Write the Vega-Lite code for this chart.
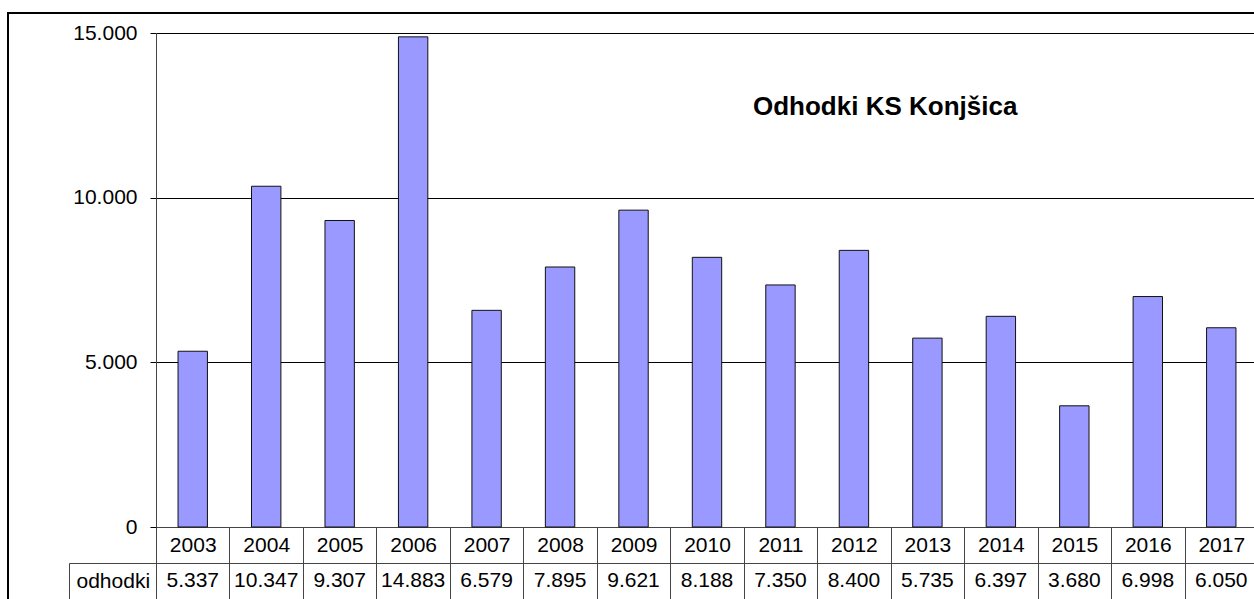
{
  "$schema": "https://vega.github.io/schema/vega-lite/v6.json",
  "autosize": {"type": "none"},
  "padding": {"left": 8, "top": 13, "right": -16, "bottom": -3},
  "width": 1262,
  "height": 589,
  "background": "#ffffff",
  "config": {
    "font": "Liberation Sans",
    "view": {"stroke": "#000000", "strokeWidth": 2},
    "locale": {"number": {"decimal": ",", "thousands": ".", "grouping": [3], "currency": ["", " €"]}},
    "axis": {"labelFont": "Liberation Sans", "labelFontSize": 21, "labelColor": "#000000", "titleFont": "Liberation Sans"}
  },
  "title": {"text": "Odhodki KS Konjšica", "font": "Liberation Sans", "fontSize": 26, "fontWeight": "bold", "color": "#000000", "frame": "group", "anchor": "start", "dx": 745, "offset": -131, "baseline": "middle"},
  "data": {"values": [
    {"year": "2003", "odhodki": 5337},
    {"year": "2004", "odhodki": 10347},
    {"year": "2005", "odhodki": 9307},
    {"year": "2006", "odhodki": 14883},
    {"year": "2007", "odhodki": 6579},
    {"year": "2008", "odhodki": 7895},
    {"year": "2009", "odhodki": 9621},
    {"year": "2010", "odhodki": 8188},
    {"year": "2011", "odhodki": 7350},
    {"year": "2012", "odhodki": 8400},
    {"year": "2013", "odhodki": 5735},
    {"year": "2014", "odhodki": 6397},
    {"year": "2015", "odhodki": 3680},
    {"year": "2016", "odhodki": 6998},
    {"year": "2017", "odhodki": 6050}
  ]},
  "encoding": {
    "x": {"field": "year", "type": "ordinal",
      "scale": {"range": [148, 1250], "paddingInner": 0, "paddingOuter": 0},
      "axis": {"orient": "bottom", "offset": -75, "title": null, "labelAngle": 0, "labelBaseline": "middle", "labelPadding": -54, "tickBand": "extent", "tickSize": 72, "tickColor": "#444444", "tickWidth": 1, "domainColor": "#444444", "domainWidth": 1, "labelFlush": false, "labelOverlap": false, "grid": false}}
  },
  "layer": [
    {"layer": [
      {"mark": {"type": "bar", "fill": "#9999FF", "stroke": "#111111", "strokeWidth": 1, "width": {"band": 0.4}},
       "encoding": {"y": {"field": "odhodki", "type": "quantitative", "scale": {"domain": [0, 15000], "range": [514, 20], "nice": false}, "axis": {"orient": "left", "offset": -148, "title": null, "values": [0, 5000, 10000, 15000], "format": ",d", "grid": true, "gridColor": "#000000", "gridWidth": 1, "domainColor": "#444444", "tickColor": "#000000", "tickSize": 6, "labelPadding": 13, "labelBaseline": "middle"}}}},
      {"mark": {"type": "text", "fontSize": 21, "font": "Liberation Sans", "color": "#000000", "baseline": "middle", "dy": 54},
       "encoding": {"y": {"datum": 0, "type": "quantitative", "axis": {"title": null}}, "text": {"field": "odhodki", "type": "quantitative", "format": ",d"}}}
    ]},
    {"mark": {"type": "text", "text": ""},
     "encoding": {"y": {"datum": "odhodki", "type": "nominal", "scale": {"domain": ["odhodki"], "range": [550, 586], "paddingInner": 0, "paddingOuter": 0}, "axis": {"orient": "left", "offset": -61, "title": null, "domain": true, "domainColor": "#444444", "ticks": true, "tickBand": "extent", "tickSize": -87, "tickColor": "#444444", "grid": true, "gridColor": "#444444", "labelAlign": "left", "labelPadding": 80, "labelBaseline": "middle"}}}}
  ],
  "resolve": {"scale": {"y": "independent"}}
}
